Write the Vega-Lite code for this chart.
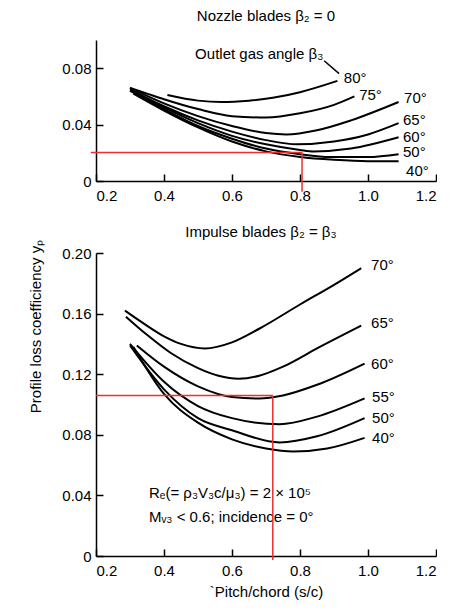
{
  "$schema": "https://vega.github.io/schema/vega-lite/v6.json",
  "background": "white",
  "padding": {"left": 28, "top": 9, "right": 0, "bottom": 5},
  "spacing": 21,
  "config": {
    "view": {"stroke": null},
    "font": "Liberation Sans",
    "axis": {
      "grid": false, "domainColor": "black", "domainWidth": 1.5, "tickColor": "black", "tickWidth": 1.5,
      "tickSize": -7, "labelPadding": 14, "labelColor": "black", "labelFontSize": 15, "labelFont": "Liberation Sans",
      "titleFont": "Liberation Sans", "titleFontWeight": "normal", "titleColor": "black", "titleFontSize": 15
    },
    "title": {"font": "Liberation Sans", "fontWeight": "normal", "fontSize": 15, "color": "black"},
    "text": {"font": "Liberation Sans"}
  },
  "datasets": {
    "nozzle": [
      {"angle": "80", "sc": 0.41, "yp": 0.061}, {"angle": "80", "sc": 0.5, "yp": 0.057}, {"angle": "80", "sc": 0.57, "yp": 0.056}, {"angle": "80", "sc": 0.65, "yp": 0.057}, {"angle": "80", "sc": 0.72, "yp": 0.059}, {"angle": "80", "sc": 0.8, "yp": 0.063}, {"angle": "80", "sc": 0.91, "yp": 0.071},
      {"angle": "75", "sc": 0.30, "yp": 0.066}, {"angle": "75", "sc": 0.35, "yp": 0.062}, {"angle": "75", "sc": 0.4, "yp": 0.058}, {"angle": "75", "sc": 0.5, "yp": 0.051}, {"angle": "75", "sc": 0.6, "yp": 0.046}, {"angle": "75", "sc": 0.7, "yp": 0.045}, {"angle": "75", "sc": 0.8, "yp": 0.048}, {"angle": "75", "sc": 0.9, "yp": 0.054}, {"angle": "75", "sc": 0.96, "yp": 0.060},
      {"angle": "70", "sc": 0.30, "yp": 0.066}, {"angle": "70", "sc": 0.4, "yp": 0.055}, {"angle": "70", "sc": 0.5, "yp": 0.046}, {"angle": "70", "sc": 0.6, "yp": 0.039}, {"angle": "70", "sc": 0.7, "yp": 0.034}, {"angle": "70", "sc": 0.76, "yp": 0.033}, {"angle": "70", "sc": 0.85, "yp": 0.036}, {"angle": "70", "sc": 0.95, "yp": 0.043}, {"angle": "70", "sc": 1.09, "yp": 0.056},
      {"angle": "65", "sc": 0.30, "yp": 0.065}, {"angle": "65", "sc": 0.4, "yp": 0.053}, {"angle": "65", "sc": 0.5, "yp": 0.043}, {"angle": "65", "sc": 0.6, "yp": 0.035}, {"angle": "65", "sc": 0.7, "yp": 0.029}, {"angle": "65", "sc": 0.79, "yp": 0.026}, {"angle": "65", "sc": 0.9, "yp": 0.028}, {"angle": "65", "sc": 1.0, "yp": 0.033}, {"angle": "65", "sc": 1.09, "yp": 0.041},
      {"angle": "60", "sc": 0.30, "yp": 0.064}, {"angle": "60", "sc": 0.4, "yp": 0.052}, {"angle": "60", "sc": 0.5, "yp": 0.041}, {"angle": "60", "sc": 0.6, "yp": 0.032}, {"angle": "60", "sc": 0.7, "yp": 0.026}, {"angle": "60", "sc": 0.8, "yp": 0.022}, {"angle": "60", "sc": 0.84, "yp": 0.021}, {"angle": "60", "sc": 0.95, "yp": 0.023}, {"angle": "60", "sc": 1.09, "yp": 0.031},
      {"angle": "50", "sc": 0.31, "yp": 0.063}, {"angle": "50", "sc": 0.4, "yp": 0.051}, {"angle": "50", "sc": 0.5, "yp": 0.039}, {"angle": "50", "sc": 0.6, "yp": 0.030}, {"angle": "50", "sc": 0.7, "yp": 0.023}, {"angle": "50", "sc": 0.8, "yp": 0.019}, {"angle": "50", "sc": 0.89, "yp": 0.017}, {"angle": "50", "sc": 1.0, "yp": 0.017}, {"angle": "50", "sc": 1.09, "yp": 0.019},
      {"angle": "40", "sc": 0.31, "yp": 0.062}, {"angle": "40", "sc": 0.4, "yp": 0.050}, {"angle": "40", "sc": 0.5, "yp": 0.038}, {"angle": "40", "sc": 0.6, "yp": 0.028}, {"angle": "40", "sc": 0.7, "yp": 0.021}, {"angle": "40", "sc": 0.8, "yp": 0.017}, {"angle": "40", "sc": 0.9, "yp": 0.015}, {"angle": "40", "sc": 1.0, "yp": 0.014}, {"angle": "40", "sc": 1.09, "yp": 0.014}
    ],
    "nozzleLabels": [
      {"t": "80°", "sc": 0.929, "yp": 0.0727},
      {"t": "75°", "sc": 0.974, "yp": 0.0608},
      {"t": "70°", "sc": 1.106, "yp": 0.0587},
      {"t": "65°", "sc": 1.103, "yp": 0.0434},
      {"t": "60°", "sc": 1.103, "yp": 0.0315},
      {"t": "50°", "sc": 1.103, "yp": 0.0203},
      {"t": "40°", "sc": 1.112, "yp": 0.007}
    ],
    "nozzleRed": [
      {"x": 0.185, "y": 0.0203, "x2": 0.806, "y2": 0.0203},
      {"x": 0.806, "y": 0.0203, "x2": 0.806, "y2": -0.0077}
    ],
    "impulse": [
      {"angle": "70", "sc": 0.285, "yp": 0.162}, {"angle": "70", "sc": 0.33, "yp": 0.155}, {"angle": "70", "sc": 0.4, "yp": 0.145}, {"angle": "70", "sc": 0.45, "yp": 0.140}, {"angle": "70", "sc": 0.52, "yp": 0.137}, {"angle": "70", "sc": 0.6, "yp": 0.141}, {"angle": "70", "sc": 0.68, "yp": 0.150}, {"angle": "70", "sc": 0.8, "yp": 0.166}, {"angle": "70", "sc": 0.9, "yp": 0.179}, {"angle": "70", "sc": 0.98, "yp": 0.190},
      {"angle": "65", "sc": 0.288, "yp": 0.158}, {"angle": "65", "sc": 0.35, "yp": 0.146}, {"angle": "65", "sc": 0.42, "yp": 0.134}, {"angle": "65", "sc": 0.5, "yp": 0.124}, {"angle": "65", "sc": 0.56, "yp": 0.119}, {"angle": "65", "sc": 0.62, "yp": 0.117}, {"angle": "65", "sc": 0.68, "yp": 0.119}, {"angle": "65", "sc": 0.75, "yp": 0.125}, {"angle": "65", "sc": 0.85, "yp": 0.137}, {"angle": "65", "sc": 0.98, "yp": 0.152},
      {"angle": "60", "sc": 0.32, "yp": 0.139}, {"angle": "60", "sc": 0.4, "yp": 0.125}, {"angle": "60", "sc": 0.5, "yp": 0.112}, {"angle": "60", "sc": 0.6, "yp": 0.105}, {"angle": "60", "sc": 0.68, "yp": 0.104}, {"angle": "60", "sc": 0.75, "yp": 0.106}, {"angle": "60", "sc": 0.85, "yp": 0.113}, {"angle": "60", "sc": 0.99, "yp": 0.127},
      {"angle": "55", "sc": 0.30, "yp": 0.140}, {"angle": "55", "sc": 0.4, "yp": 0.115}, {"angle": "55", "sc": 0.5, "yp": 0.099}, {"angle": "55", "sc": 0.6, "yp": 0.091}, {"angle": "55", "sc": 0.74, "yp": 0.087}, {"angle": "55", "sc": 0.85, "yp": 0.092}, {"angle": "55", "sc": 0.99, "yp": 0.104},
      {"angle": "50", "sc": 0.30, "yp": 0.139}, {"angle": "50", "sc": 0.4, "yp": 0.110}, {"angle": "50", "sc": 0.5, "yp": 0.091}, {"angle": "50", "sc": 0.6, "yp": 0.083}, {"angle": "50", "sc": 0.74, "yp": 0.075}, {"angle": "50", "sc": 0.85, "yp": 0.079}, {"angle": "50", "sc": 0.99, "yp": 0.091},
      {"angle": "40", "sc": 0.31, "yp": 0.138}, {"angle": "40", "sc": 0.4, "yp": 0.107}, {"angle": "40", "sc": 0.5, "yp": 0.088}, {"angle": "40", "sc": 0.6, "yp": 0.077}, {"angle": "40", "sc": 0.7, "yp": 0.071}, {"angle": "40", "sc": 0.78, "yp": 0.069}, {"angle": "40", "sc": 0.88, "yp": 0.071}, {"angle": "40", "sc": 0.99, "yp": 0.078}
    ],
    "impulseLabels": [
      {"t": "70°", "sc": 1.009, "yp": 0.192},
      {"t": "65°", "sc": 1.009, "yp": 0.154},
      {"t": "60°", "sc": 1.009, "yp": 0.127},
      {"t": "55°", "sc": 1.012, "yp": 0.105},
      {"t": "50°", "sc": 1.012, "yp": 0.091},
      {"t": "40°", "sc": 1.012, "yp": 0.078}
    ],
    "impulseRed": [
      {"x": 0.2, "y": 0.106, "x2": 0.72, "y2": 0.106},
      {"x": 0.72, "y": 0.106, "x2": 0.72, "y2": -0.0026}
    ],
    "impulseNotes": [
      {"t": "Rₑ(= ρ₃V₃c/μ₃) = 2 × 10⁵", "sc": 0.356, "yp": 0.0416},
      {"t": "Mᵥ₃ < 0.6; incidence = 0°", "sc": 0.356, "yp": 0.0257}
    ]
  },
  "vconcat": [
    {
      "width": 340, "height": 141,
      "title": {"text": "Nozzle blades β₂ = 0", "offset": 16},
      "layer": [
        {
          "data": {"name": "nozzle"},
          "mark": {"type": "line", "interpolate": "monotone", "color": "black", "strokeWidth": 2},
          "encoding": {
            "x": {"field": "sc", "type": "quantitative", "scale": {"domain": [0.2, 1.2], "nice": false},
                  "axis": {"title": null, "values": [0.2, 0.3, 0.4, 0.5, 0.6, 0.7, 0.8, 0.9, 1.0, 1.1, 1.2],
                           "labelExpr": "round(datum.value*10) % 2 == 0 ? format(datum.value, '.1f') : ''"}},
            "y": {"field": "yp", "type": "quantitative", "scale": {"domain": [0, 0.1], "nice": false},
                  "axis": {"title": null, "values": [0, 0.02, 0.04, 0.06, 0.08, 0.1], "labelPadding": 12,
                           "labelExpr": "datum.value == 0 ? '0' : (round(datum.value*100) % 4 == 0 ? format(datum.value, '.2f') : '')"}},
            "detail": {"field": "angle", "type": "nominal"}
          }
        },
        {
          "data": {"name": "nozzleLabels"},
          "mark": {"type": "text", "align": "left", "baseline": "middle", "fontSize": 15, "color": "black"},
          "encoding": {"x": {"field": "sc", "type": "quantitative"}, "y": {"field": "yp", "type": "quantitative"}, "text": {"field": "t"}}
        },
        {
          "data": {"values": [{"t": "Outlet gas angle β₃", "sc": 0.68, "yp": 0.090}]},
          "mark": {"type": "text", "align": "center", "baseline": "middle", "fontSize": 15, "color": "black"},
          "encoding": {"x": {"field": "sc", "type": "quantitative"}, "y": {"field": "yp", "type": "quantitative"}, "text": {"field": "t"}}
        },
        {
          "data": {"values": [{"x": 0.871, "y": 0.0853, "x2": 0.915, "y2": 0.0762}]},
          "mark": {"type": "rule", "color": "black", "strokeWidth": 1.5},
          "encoding": {"x": {"field": "x", "type": "quantitative"}, "y": {"field": "y", "type": "quantitative"}, "x2": {"field": "x2"}, "y2": {"field": "y2"}}
        },
        {
          "data": {"name": "nozzleRed"},
          "mark": {"type": "rule", "color": "#e8302e", "strokeWidth": 1.5},
          "encoding": {"x": {"field": "x", "type": "quantitative"}, "y": {"field": "y", "type": "quantitative"}, "x2": {"field": "x2"}, "y2": {"field": "y2"}}
        }
      ]
    },
    {
      "width": 340, "height": 303,
      "layer": [
        {
          "data": {"name": "impulse"},
          "mark": {"type": "line", "interpolate": "monotone", "color": "black", "strokeWidth": 2},
          "encoding": {
            "x": {"field": "sc", "type": "quantitative", "scale": {"domain": [0.2, 1.2], "nice": false},
                  "axis": {"title": "`Pitch/chord (s/c)", "titlePadding": 6, "values": [0.2, 0.3, 0.4, 0.5, 0.6, 0.7, 0.8, 0.9, 1.0, 1.1, 1.2],
                           "labelExpr": "round(datum.value*10) % 2 == 0 ? format(datum.value, '.1f') : ''"}},
            "y": {"field": "yp", "type": "quantitative", "scale": {"domain": [0, 0.2], "nice": false},
                  "axis": {"title": "Profile loss coefficiency yₚ", "titleY": 73, "titlePadding": 18, "values": [0, 0.02, 0.04, 0.06, 0.08, 0.1, 0.12, 0.14, 0.16, 0.18, 0.2], "labelPadding": 12,
                           "labelExpr": "datum.value == 0 ? '0' : (round(datum.value*100) % 4 == 0 ? format(datum.value, '.2f') : '')"}},
            "detail": {"field": "angle", "type": "nominal"}
          }
        },
        {
          "data": {"values": [{"t": "Impulse blades β₂ = β₃", "sc": 0.685, "yp": 0.214}]},
          "mark": {"type": "text", "align": "center", "baseline": "middle", "fontSize": 15, "color": "black"},
          "encoding": {"x": {"field": "sc", "type": "quantitative"}, "y": {"field": "yp", "type": "quantitative"}, "text": {"field": "t"}}
        },
        {
          "data": {"name": "impulseLabels"},
          "mark": {"type": "text", "align": "left", "baseline": "middle", "fontSize": 15, "color": "black"},
          "encoding": {"x": {"field": "sc", "type": "quantitative"}, "y": {"field": "yp", "type": "quantitative"}, "text": {"field": "t"}}
        },
        {
          "data": {"name": "impulseNotes"},
          "mark": {"type": "text", "align": "left", "baseline": "middle", "fontSize": 15, "color": "black"},
          "encoding": {"x": {"field": "sc", "type": "quantitative"}, "y": {"field": "yp", "type": "quantitative"}, "text": {"field": "t"}}
        },
        {
          "data": {"name": "impulseRed"},
          "mark": {"type": "rule", "color": "#e8302e", "strokeWidth": 1.5},
          "encoding": {"x": {"field": "x", "type": "quantitative"}, "y": {"field": "y", "type": "quantitative"}, "x2": {"field": "x2"}, "y2": {"field": "y2"}}
        }
      ]
    }
  ]
}
